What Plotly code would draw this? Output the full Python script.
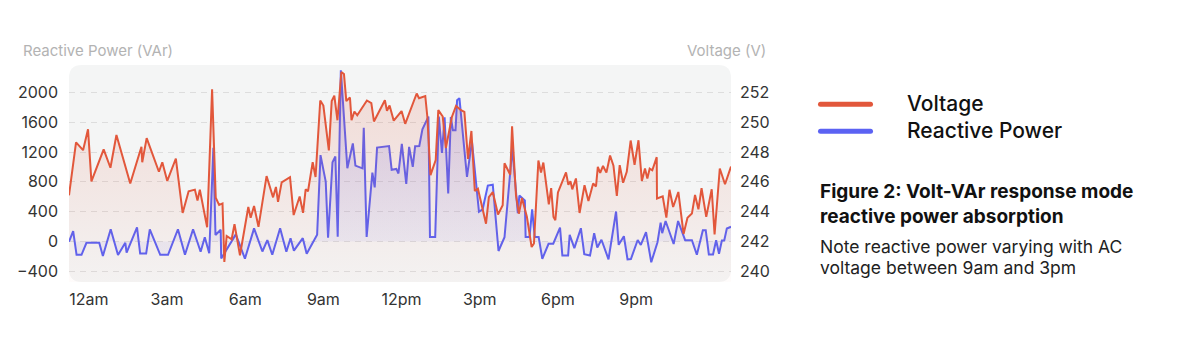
import plotly.graph_objects as go

# ---- data -------------------------------------------------------------
# time of day in hours (0 = midnight) for each voltage sample
volt_hours = [
    -0.76, -0.49, -0.22, -0.03, 0.10, 0.57, 0.83, 1.06, 1.59, 2.02,
    2.05, 2.22, 2.69, 2.82, 3.01, 3.34, 3.60, 3.83, 4.07, 4.17,
    4.26, 4.54, 4.73, 4.87, 5.00, 5.13, 5.20, 5.29, 5.48, 5.59,
    5.80, 6.12, 6.21, 6.34, 6.51, 6.82, 7.07, 7.18, 7.26, 7.40,
    7.72, 7.86, 8.09, 8.22, 8.32, 8.41, 8.59, 8.70, 8.88, 9.00,
    9.21, 9.32, 9.42, 9.54, 9.69, 9.79, 9.88, 10.02, 10.08, 10.19,
    10.30, 10.67, 10.84, 10.94, 11.36, 11.44, 11.54, 11.70, 12.00, 12.14,
    12.58, 12.67, 12.91, 12.99, 13.11, 13.31, 13.41, 13.58, 13.70, 13.93,
    14.09, 14.28, 14.41, 14.55, 14.68, 14.81, 14.93, 15.24, 15.35, 15.50,
    15.70, 15.88, 15.95, 16.17, 16.24, 16.39, 16.50, 16.62, 16.81, 16.99,
    17.08, 17.25, 17.35, 17.44, 17.65, 17.74, 17.83, 17.90, 18.00, 18.31,
    18.40, 18.48, 18.55, 18.69, 18.83, 19.02, 19.17, 19.35, 19.46, 19.53,
    19.62, 19.73, 19.86, 20.00, 20.13, 20.26, 20.37, 20.50, 20.64, 20.79,
    20.94, 21.09, 21.22, 21.34, 21.43, 21.52, 21.62, 21.79, 21.80, 22.02,
    22.16, 22.28, 22.42, 22.62, 22.82, 22.97, 23.14, 23.26, 23.39, 23.51,
    23.69, 23.90, 24.01, 24.21, 24.41, 24.64,
]
voltage_v = [
    245.10, 248.65, 248.13, 249.53, 246.03, 248.19, 246.95, 249.15, 245.89, 248.36,
    247.32, 248.94, 246.68, 247.32, 246.06, 247.57, 243.91, 245.37, 245.48, 244.75,
    245.48, 242.95, 252.22, 244.94, 244.45, 244.55, 240.62, 242.36, 242.14, 243.16,
    241.07, 244.31, 243.59, 244.38, 242.98, 246.39, 244.96, 245.66, 244.66, 245.97,
    246.31, 243.77, 245.02, 243.92, 245.50, 245.37, 247.32, 246.33, 251.47, 251.13,
    248.12, 251.43, 251.79, 250.14, 253.38, 253.25, 251.43, 251.67, 250.14, 250.73,
    250.47, 251.47, 251.30, 250.06, 251.49, 250.78, 251.13, 250.11, 250.76, 249.90,
    251.94, 251.62, 251.77, 250.36, 246.45, 247.46, 250.82, 250.39, 248.28, 250.36,
    251.10, 250.82, 250.70, 247.54, 249.42, 245.39, 245.54, 243.19, 244.98, 245.32,
    243.81, 244.43, 247.25, 246.48, 249.73, 245.10, 243.86, 244.92, 243.64, 241.62,
    241.86, 247.44, 246.63, 247.30, 244.48, 245.58, 243.64, 243.42, 245.29, 246.64,
    245.80, 246.04, 245.50, 246.23, 243.91, 245.78, 244.71, 245.89, 245.69, 247.01,
    246.60, 247.07, 246.62, 247.77, 247.09, 245.05, 247.12, 245.94, 246.68, 248.78,
    247.15, 248.80, 246.06, 246.90, 246.23, 246.89, 246.78, 247.66, 244.88, 245.03,
    243.60, 245.47, 244.31, 245.32, 242.50, 243.59, 243.87, 245.12, 244.16, 245.57,
    243.65, 245.50, 242.46, 246.90, 245.84, 247.03,
]

# time of day in hours for each reactive power sample
var_hours = [
    -0.76, -0.60, -0.47, -0.28, -0.09, 0.40, 0.54, 0.84, 1.12, 1.40,
    1.45, 1.85, 1.97, 2.20, 2.34, 2.74, 3.04, 3.42, 3.69, 4.00,
    4.29, 4.45, 4.62, 4.78, 4.86, 5.06, 5.08, 5.64, 5.99, 6.34,
    6.66, 6.85, 7.04, 7.34, 7.58, 7.74, 7.87, 8.21, 8.36, 8.76,
    8.89, 9.09, 9.18, 9.35, 9.46, 9.55, 9.67, 9.92, 10.13, 10.23,
    10.50, 10.55, 10.66, 10.88, 10.97, 11.06, 11.52, 11.62, 11.80, 11.88,
    12.01, 12.18, 12.29, 12.43, 12.52, 12.68, 12.80, 13.03, 13.09, 13.29,
    13.43, 13.55, 13.65, 13.79, 13.89, 13.97, 14.07, 14.13, 14.22, 14.51,
    14.70, 14.97, 15.11, 15.31, 15.50, 15.72, 15.95, 16.25, 16.46, 16.52,
    16.73, 16.76, 16.91, 17.01, 17.11, 17.26, 17.40, 17.64, 17.82, 18.08,
    18.17, 18.39, 18.45, 18.63, 18.88, 19.01, 19.23, 19.39, 19.51, 19.67,
    19.94, 20.23, 20.33, 20.53, 20.67, 20.80, 21.06, 21.18, 21.38, 21.58,
    21.82, 21.94, 22.00, 22.13, 22.44, 22.61, 22.88, 23.14, 23.33, 23.56,
    23.67, 23.79, 23.95, 24.07, 24.18, 24.29, 24.38, 24.48, 24.64,
]
reactive_var = [
    -5, 137, -180, -180, -19, -19, -196, 163, -183, -19,
    -152, 188, -164, -164, 160, -180, -180, 163, -180, 163,
    -140, 56, -159, 1259, 85, 156, -231, 94, -233, 175,
    -136, 16, -180, 177, -140, 43, -125, 43, -167, 89,
    1159, 805, 48, 1063, 1141, 62, 2301, 984, 1316, 1019,
    982, 1527, 59, 925, 726, 1261, 1282, 962, 974, 913,
    1312, 774, 1271, 1003, 1278, 1282, 1507, 1677, 58, 58,
    1679, 1188, 1669, 644, 1673, 1495, 1495, 1898, 1925, 868,
    1343, 398, 431, 750, 761, -129, 56, 1255, 379, 616,
    550, 58, 58, 431, 59, 59, -234, -32, -32, 185,
    -191, -191, 89, -91, 177, -173, -191, 109, -83, 22,
    -241, 402, -46, 69, -241, -237, 19, -48, 124, -280,
    -12, 251, 110, 274, -35, 274, 16, 16, -180, 151,
    151, -175, -175, 16, -167, 12, 12, 173, 196,
]

hour_ticks = [0, 3, 6, 9, 12, 15, 18, 21]
hour_labels = ["12am", "3am", "6am", "9am", "12pm", "3pm", "6pm", "9pm"]
var_ticks = [-400, 0, 400, 800, 1200, 1600, 2000]
volt_ticks = [240, 242, 244, 246, 248, 250, 252]

# ---- layout geometry (pixels) ----------------------------------------
W, H = 1200, 337
L, R, T, B = 69, 731, 65, 282
FONT = "Inter"
RED = "#E2573B"
BLUE = "#5B62F3"

VAR_RANGE = [-546, 2371]
VOLT_RANGE = [242 + VAR_RANGE[0] / 200, 242 + VAR_RANGE[1] / 200]


def px(x):
    return (x - L) / (R - L)


def py(y):
    return (B - y) / (B - T)


def rounded_rect(x0, y0, x1, y1, r):
    """Rounded rectangle path in paper coordinates from pixel corners."""
    rx = r / (R - L)
    ry = r / (B - T)
    X0, X1 = px(x0), px(x1)
    Y0, Y1 = py(y1), py(y0)  # bottom, top in paper units
    return (
        f"M {X0 + rx},{Y0} L {X1 - rx},{Y0} Q {X1},{Y0} {X1},{Y0 + ry} "
        f"L {X1},{Y1 - ry} Q {X1},{Y1} {X1 - rx},{Y1} "
        f"L {X0 + rx},{Y1} Q {X0},{Y1} {X0},{Y1 - ry} "
        f"L {X0},{Y0 + ry} Q {X0},{Y0} {X0 + rx},{Y0} Z"
    )


fig = go.Figure()

fig.add_trace(go.Scatter(
    x=volt_hours, y=voltage_v, yaxis="y2", mode="lines",
    line=dict(color=RED, width=2),
    fill="tozeroy",
    fillgradient=dict(
        type="vertical",
        start=VOLT_RANGE[0], stop=252,
        colorscale=[[0, "rgba(226,87,59,0.02)"], [1, "rgba(226,87,59,0.16)"]],
    ),
    name="Voltage", hoverinfo="skip",
))

fig.add_trace(go.Scatter(
    x=var_hours, y=reactive_var, yaxis="y", mode="lines",
    line=dict(color=BLUE, width=2),
    fill="tozeroy",
    fillgradient=dict(
        type="vertical",
        start=0, stop=2300,
        colorscale=[[0, "rgba(91,98,243,0.07)"], [1, "rgba(91,98,243,0.22)"]],
    ),
    name="Reactive Power", hoverinfo="skip",
))

shapes = [
    dict(type="path", xref="paper", yref="paper", layer="below",
         path=rounded_rect(L, T, R, B, 13),
         fillcolor="#F4F5F5", line=dict(width=0)),
    # legend swatches
    dict(type="path", xref="paper", yref="paper",
         path=rounded_rect(818, 101.8, 873, 106.8, 2.5),
         fillcolor=RED, line=dict(width=0)),
    dict(type="path", xref="paper", yref="paper",
         path=rounded_rect(818, 128.8, 873, 133.8, 2.5),
         fillcolor=BLUE, line=dict(width=0)),
]

annotations = [
    dict(text="Reactive Power (VAr)", x=px(21), y=py(50.5), xanchor="left",
         yanchor="middle", font=dict(size=15, color="#B3B3B3")),
    dict(text="Voltage (V)", x=px(685), y=py(50.5), xanchor="left",
         yanchor="middle", font=dict(size=15, color="#B3B3B3")),
    dict(text="Voltage", x=px(905), y=py(103.5), xanchor="left",
         yanchor="middle", font=dict(size=21, color="#111111", weight=500)),
    dict(text="Reactive Power", x=px(905), y=py(130.5), xanchor="left",
         yanchor="middle", font=dict(size=21, color="#111111", weight=500)),
    dict(text="<b>Figure 2: Volt-VAr response mode</b>", x=px(818), y=py(191),
         xanchor="left", yanchor="middle", font=dict(size=19, color="#111111")),
    dict(text="<b>reactive power absorption</b>", x=px(818), y=py(216),
         xanchor="left", yanchor="middle", font=dict(size=19, color="#111111")),
    dict(text="Note reactive power varying with AC", x=px(818), y=py(246),
         xanchor="left", yanchor="middle", font=dict(size=17.5, color="#222222")),
    dict(text="voltage between 9am and 3pm", x=px(818), y=py(267),
         xanchor="left", yanchor="middle", font=dict(size=17.5, color="#222222")),
]
for a in annotations:
    a.update(xref="paper", yref="paper", showarrow=False)
    a["font"]["family"] = FONT

fig.update_layout(
    width=W, height=H,
    margin=dict(l=L, r=W - R, t=T, b=H - B, pad=0),
    paper_bgcolor="white", plot_bgcolor="rgba(0,0,0,0)",
    showlegend=False,
    font=dict(family=FONT, size=16, color="#333333"),
    shapes=shapes, annotations=annotations,
    xaxis=dict(
        range=[volt_hours[0], volt_hours[-1]],
        tickvals=hour_ticks, ticktext=hour_labels,
        showgrid=False, zeroline=False, showline=False, ticks="",
        ticklabelstandoff=6,
        tickfont=dict(size=16, color="#333333"),
    ),
    yaxis=dict(
        range=VAR_RANGE, tickvals=var_ticks,
        showgrid=True, gridcolor="#DDDDDD", griddash="6px,5px", gridwidth=1,
        zeroline=False, showline=False, ticks="",
        ticklabelstandoff=10,
        tickfont=dict(size=16, color="#333333"),
    ),
    yaxis2=dict(
        range=VOLT_RANGE, tickvals=volt_ticks, overlaying="y", side="right",
        showgrid=False, zeroline=False, showline=False, ticks="",
        ticklabelstandoff=8,
        tickfont=dict(size=16, color="#333333"),
    ),
)

fig.write_html("out.html")
